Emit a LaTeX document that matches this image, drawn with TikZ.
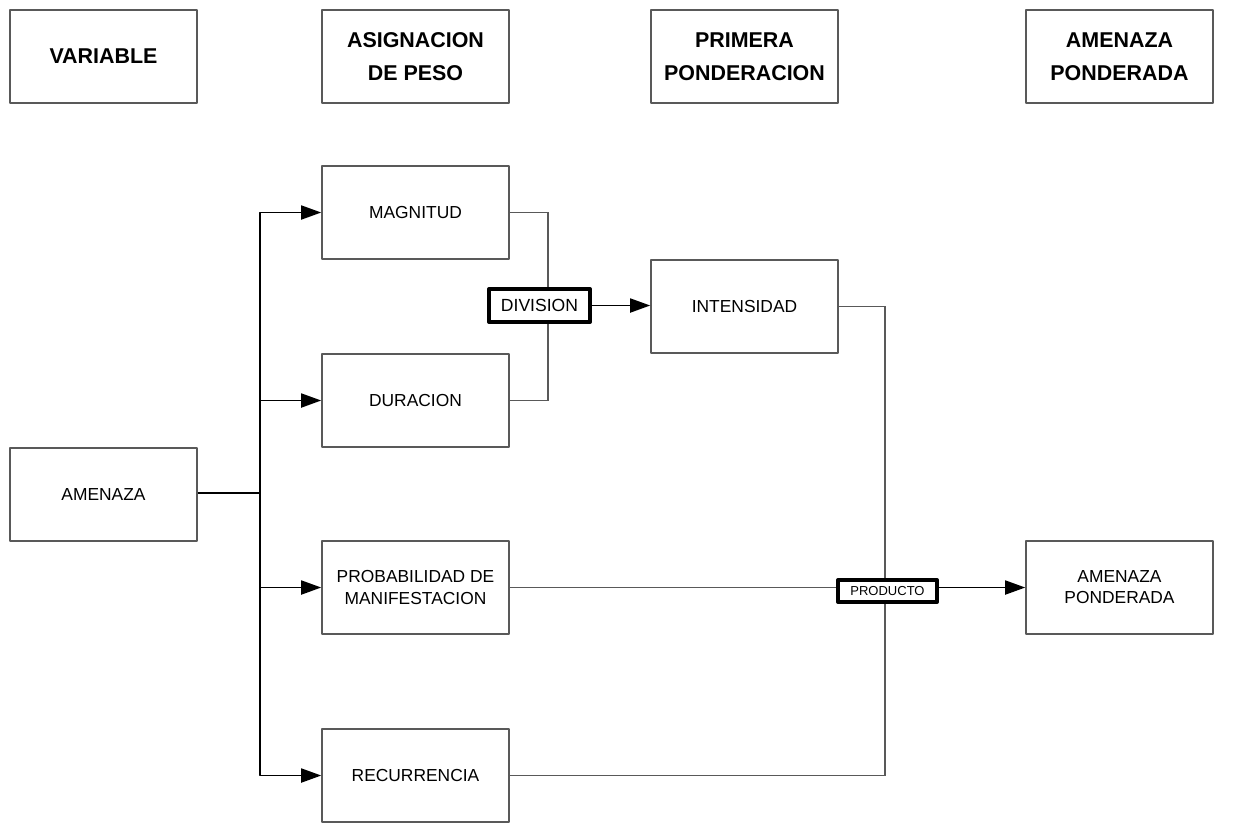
\documentclass[tikz,border=0pt]{standalone}
\usepackage{fontspec}
\setmainfont{Liberation Sans}
\usetikzlibrary{arrows.meta,backgrounds}

\begin{document}
\begin{tikzpicture}[x=0.02cm,y=-0.02cm,>={Triangle[length=0.4cm,width=0.28cm]},line join=round,
  box/.style={draw=black!65,line width=0.9pt,fill=white,minimum width=3.74cm,minimum height=1.86cm,
    inner sep=0pt,align=center,font=\fontsize{9.9}{12}\selectfont},
  headbox/.style={box,font=\bfseries\fontsize{12.2}{18.8}\selectfont},
  opbox/.style={draw=black,line width=2.3pt,fill=white,inner sep=0pt,align=center},
  link/.style={draw=black!65,line width=0.9pt},
  arr/.style={draw=black,line width=1pt,->}]
  \useasboundingbox (0,0) rectangle (1248,823);
  % header row
  \node[headbox] (hvar) at (103.5,56.5) {VARIABLE};
  \node[headbox] (hpeso) at (415.5,56.5) {ASIGNACION\\DE PESO};
  \node[headbox] (hpond) at (744.5,56.5) {PRIMERA\\PONDERACION};
  \node[headbox] (hamen) at (1119.5,56.5) {AMENAZA\\PONDERADA};
  % boxes
  \node[box] (amen) at (103.5,494.5) {AMENAZA};
  \node[box] (mag) at (415.5,212.5) {MAGNITUD};
  \node[box] (dur) at (415.5,400.5) {DURACION};
  \node[box] (prob) at (415.5,587.5) {PROBABILIDAD DE\\MANIFESTACION};
  \node[box] (rec) at (415.5,775.5) {RECURRENCIA};
  \node[box] (int) at (744.5,306.5) {INTENSIDAD};
  \node[box] (pond) at (1119.5,587.5) {AMENAZA\\PONDERADA};
  \node[opbox,minimum width=2.02cm,minimum height=0.66cm,font=\fontsize{10}{12}\selectfont] (div) at (539.5,305.5) {DIVISION};
  \node[opbox,minimum width=1.98cm,minimum height=0.44cm,font=\fontsize{7.4}{9}\selectfont] (prod) at (887.5,591) {PRODUCTO};
  % junctions
  \coordinate (sp) at (260,493);
  \coordinate (dj) at (548,305);
  \coordinate (pj) at (885,587.5);
  \begin{scope}[on background layer]
    \draw[link] (mag.east) -| (dj) |- (dur.east);
    \draw[link] (int.east) -| (pj) |- (rec.east);
    \draw[link] (prob.east) -- (pj);
  \end{scope}
  \draw[black,line width=1.6pt] (amen.east |- sp) -- (sp);
  \draw[arr] (sp) |- (mag.west);
  \draw[arr] (sp) |- (dur.west);
  \draw[arr] (sp) |- (prob.west);
  \draw[arr] (sp) |- (rec.west);
  \draw[arr] (div.east) -- (div.east -| int.west);
  \draw[arr] (prod.east |- pond.west) -- (pond.west);
\end{tikzpicture}
\end{document}
